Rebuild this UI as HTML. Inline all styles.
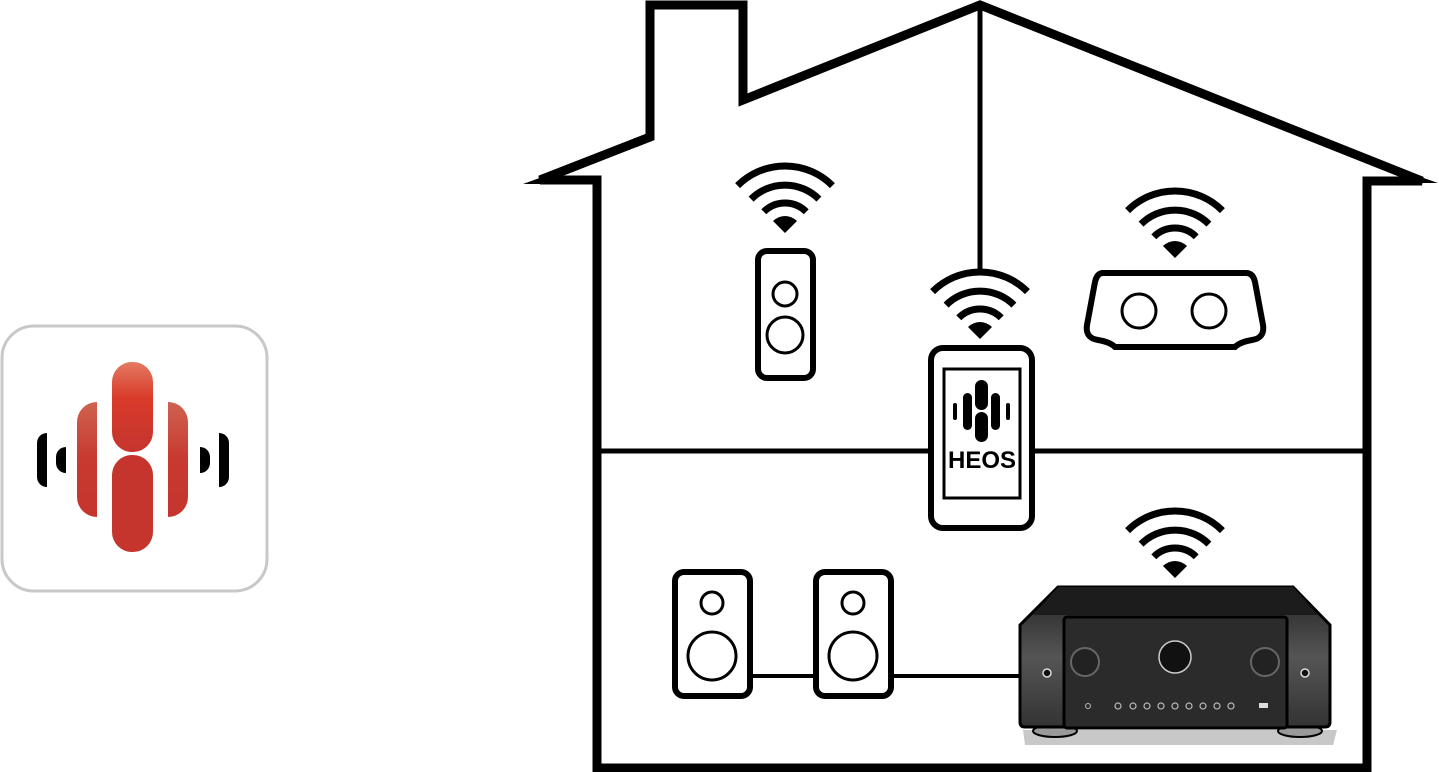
<!DOCTYPE html>
<html><head><meta charset="utf-8"><style>html,body{margin:0;padding:0;background:#fff}svg{display:block}</style></head>
<body>
<svg width="1439" height="772" viewBox="0 0 1439 772" xmlns="http://www.w3.org/2000/svg">
<defs>
<linearGradient id="rg" x1="0" y1="0" x2="0" y2="1"><stop offset="0" stop-color="#e47a62"/><stop offset="0.4" stop-color="#d93a2a"/><stop offset="1" stop-color="#c5352e"/></linearGradient>
<linearGradient id="rg2" x1="0" y1="0" x2="0" y2="1"><stop offset="0" stop-color="#cf6250"/><stop offset="0.5" stop-color="#c8392f"/><stop offset="1" stop-color="#c5352e"/></linearGradient>
<linearGradient id="side" x1="0" y1="0" x2="0" y2="1"><stop offset="0" stop-color="#222"/><stop offset="0.5" stop-color="#555"/><stop offset="1" stop-color="#333"/></linearGradient>
<g id="wifi" fill="none" stroke="#000" stroke-width="7">
<path d="M-21.2,-21.2 A30,30 0 0 1 21.2,-21.2"/>
<path d="M-33.9,-33.9 A48,48 0 0 1 33.9,-33.9"/>
<path d="M-47.4,-47.4 A67,67 0 0 1 47.4,-47.4"/>
<path d="M0,0 L-12,-12 A17,17 0 0 1 12,-12 Z" fill="#000" stroke="none"/>
</g>
</defs>

<!-- app icon -->
<rect x="2" y="326" width="265" height="265" rx="32" fill="#fff" stroke="#c8c8c8" stroke-width="3"/>
<rect x="112" y="362" width="41" height="90" rx="20" fill="url(#rg)"/>
<path d="M112,475 a20,20 0 0 1 20,-20 h1 a20,20 0 0 1 20,20 v57 a20,20 0 0 1 -20,20 h-1 a20,20 0 0 1 -20,-20 Z" fill="#c5352e"/>
<path d="M97,402 v115 a20,20 0 0 1 -20,-20 v-75 a20,20 0 0 1 20,-20 Z" fill="url(#rg2)"/>
<path d="M168,402 v115 a20,20 0 0 0 20,-20 v-75 a20,20 0 0 0 -20,-20 Z" fill="url(#rg2)"/>
<path d="M47,433 v54 a10,10 0 0 1 -10,-10 v-34 a10,10 0 0 1 10,-10Z" fill="#000"/>
<path d="M66,447 v26 a10,10 0 0 1 -10,-10 v-6 a10,10 0 0 1 10,-10Z" fill="#000"/>
<path d="M219,433 v54 a10,10 0 0 0 10,-10 v-34 a10,10 0 0 0 -10,-10Z" fill="#000"/>
<path d="M200,447 v26 a10,10 0 0 0 10,-10 v-6 a10,10 0 0 0 -10,-10Z" fill="#000"/>

<!-- house -->
<path d="M597,768 V180 H540 L650,137 V5 H743 V100 L980,5 L1422,181 H1367 V768 Z" fill="none" stroke="#000" stroke-width="9" stroke-linejoin="miter"/>
<path d="M523,184 L545,176 L548,184Z M1438,183 L1415,175 L1412,183Z" fill="#000"/>
<line x1="980" y1="5" x2="980" y2="270" stroke="#000" stroke-width="5"/>
<line x1="597" y1="451" x2="1367" y2="451" stroke="#000" stroke-width="5"/>

<!-- tall speaker -->
<use href="#wifi" x="785" y="233"/>
<rect x="758" y="251" width="55" height="127" rx="9" fill="#fff" stroke="#000" stroke-width="6"/>
<circle cx="785" cy="294" r="12" fill="none" stroke="#000" stroke-width="3"/>
<circle cx="785" cy="335" r="18" fill="none" stroke="#000" stroke-width="3"/>

<!-- phone -->
<use href="#wifi" x="980" y="339"/>
<rect x="931" y="348" width="101" height="180" rx="12" fill="#fff" stroke="#000" stroke-width="6"/>
<rect x="944" y="369" width="76" height="129" fill="none" stroke="#000" stroke-width="3"/>
<rect x="975" y="380" width="13" height="30" rx="6.5" fill="#000"/>
<rect x="975" y="412" width="13" height="30" rx="6.5" fill="#000"/>
<rect x="963" y="393" width="9" height="37" rx="4.5" fill="#000"/>
<rect x="991" y="393" width="9" height="37" rx="4.5" fill="#000"/>
<rect x="953" y="403" width="4" height="17" rx="2" fill="#000"/>
<rect x="1006" y="403" width="4" height="17" rx="2" fill="#000"/>
<text x="982" y="468" text-anchor="middle" font-family="Liberation Sans, sans-serif" font-weight="bold" font-size="24" fill="#000">HEOS</text>
<line x1="597" y1="451" x2="931" y2="451" stroke="#000" stroke-width="5"/>

<!-- router -->
<use href="#wifi" x="1175" y="258"/>
<path d="M1103,273 H1246 Q1253,273 1255,282 L1263,325 Q1265,338 1252,340 Q1240,342 1235,347 H1115 Q1110,342 1098,340 Q1085,338 1087,325 L1095,282 Q1097,273 1103,273 Z" fill="#fff" stroke="#000" stroke-width="6"/>
<circle cx="1139" cy="311" r="17" fill="none" stroke="#000" stroke-width="3"/>
<circle cx="1209" cy="311" r="17" fill="none" stroke="#000" stroke-width="3"/>

<!-- speakers -->
<line x1="750" y1="676" x2="1025" y2="676" stroke="#000" stroke-width="4"/>
<rect x="675" y="572" width="75" height="124" rx="9" fill="#fff" stroke="#000" stroke-width="6"/>
<circle cx="712" cy="603" r="11" fill="none" stroke="#000" stroke-width="3"/>
<circle cx="712" cy="656" r="24" fill="none" stroke="#000" stroke-width="3"/>
<rect x="816" y="572" width="75" height="124" rx="9" fill="#fff" stroke="#000" stroke-width="6"/>
<circle cx="853" cy="603" r="11" fill="none" stroke="#000" stroke-width="3"/>
<circle cx="853" cy="656" r="24" fill="none" stroke="#000" stroke-width="3"/>

<!-- receiver -->
<use href="#wifi" x="1175" y="578"/>
<path d="M1023,730 H1337 L1333,745 H1025Z" fill="#c8c8c8"/>
<ellipse cx="1055" cy="731" rx="22" ry="6" fill="#999" stroke="#000" stroke-width="2"/>
<ellipse cx="1300" cy="731" rx="22" ry="6" fill="#999" stroke="#000" stroke-width="2"/>
<path d="M1058,587 H1293 L1330,625 V722 Q1330,727 1325,727 H1025 Q1020,727 1020,722 V625 Z" fill="url(#side)" stroke="#000" stroke-width="3"/>
<path d="M1058,587 H1293 L1318,615 H1033 Z" fill="#1c1c1c"/>
<rect x="1064" y="617" width="223" height="111" rx="3" fill="#2b2b2b" stroke="#000" stroke-width="3"/>
<circle cx="1085" cy="662" r="14" fill="#222" stroke="#666" stroke-width="2"/>
<circle cx="1175" cy="657" r="16" fill="#111" stroke="#ccc" stroke-width="1.5"/>
<circle cx="1265" cy="662" r="14" fill="#222" stroke="#666" stroke-width="2"/>
<circle cx="1047" cy="673" r="4" fill="#111" stroke="#ddd" stroke-width="1.5"/>
<circle cx="1305" cy="673" r="4" fill="#111" stroke="#ddd" stroke-width="1.5"/>
<circle cx="1088" cy="706" r="2.5" fill="none" stroke="#bbb" stroke-width="1"/>
<g fill="none" stroke="#bbb" stroke-width="1.2">
<circle cx="1118" cy="706" r="3"/><circle cx="1133" cy="706" r="3"/><circle cx="1147" cy="706" r="3"/><circle cx="1161" cy="706" r="3"/><circle cx="1175" cy="706" r="3"/><circle cx="1189" cy="706" r="3"/><circle cx="1203" cy="706" r="3"/><circle cx="1217" cy="706" r="3"/><circle cx="1231" cy="706" r="3"/>
</g>
<rect x="1259" y="703" width="9" height="5" fill="#ddd"/>
</svg>
</body></html>
